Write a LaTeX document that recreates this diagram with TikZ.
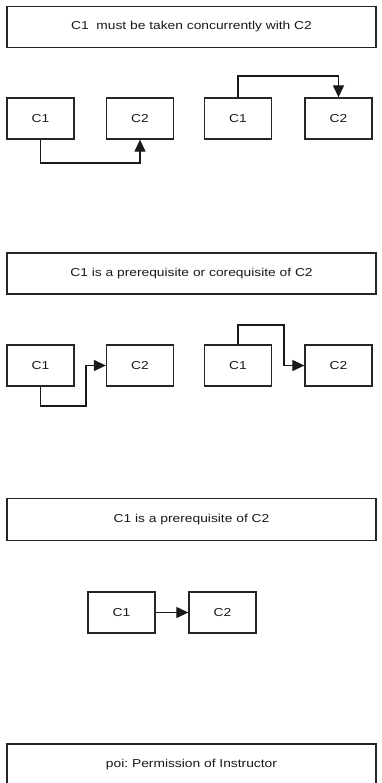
\documentclass[tikz,border=0pt]{standalone}
\usepackage{fontspec}
\setmainfont[FakeStretch=1.2]{Liberation Sans}
\usetikzlibrary{arrows.meta}
\frenchspacing
\begin{document}
\begin{tikzpicture}[x=1pt,y=-1pt,
  every node/.style={font=\fontsize{11.5}{13}\selectfont, text=black!90},
  hdr/.style={draw=black!85, line width=1.3pt, minimum width=369pt, minimum height=41pt, inner sep=0pt},
  course/.style={draw=black!85, line width=1.3pt, minimum width=67pt, minimum height=41pt, inner sep=0pt},
  link/.style={draw=black!90, line width=1.2pt, -{Triangle[length=12pt,width=11pt]}}]
\useasboundingbox (0,0) rectangle (381,783);
\clip (0,0) rectangle (381,783);
% section 1
\node[hdr] (h1) at (191.5,27) {C1\ \ must be taken concurrently with C2};
\node[course] (a1) at (40.5,118.5) {C1};
\node[course] (a2) at (140,118.5) {C2};
\node[course] (b1) at (238,118.5) {C1};
\node[course] (b2) at (338.5,118.5) {C2};
\coordinate (a1b) at (40.5,163);
\coordinate (b1t) at (238,76);
\draw[link] (a1.south) -- (a1b) -| (a2.south);
\draw[link] (b1.north) -- (b1t) -| (b2.north);
% section 2
\node[hdr] (h2) at (191.5,273.5) {C1 is a prerequisite or corequisite of C2};
\node[course] (c1) at (40.5,365.5) {C1};
\node[course] (c2) at (140,365.5) {C2};
\node[course] (d1) at (238,365.5) {C1};
\node[course] (d2) at (338.5,365.5) {C2};
\coordinate (c1b) at (86,406);
\coordinate (d1t) at (284,325);
\draw[link] (c1.south) |- (c1b) |- (c2.west);
\draw[link] (d1.north) |- (d1t) |- (d2.west);
% section 3
\node[hdr, minimum height=42pt] (h3) at (191.5,519.5) {C1 is a prerequisite of C2};
\node[course] (e1) at (121.5,612.5) {C1};
\node[course] (e2) at (222.5,612.5) {C2};
\draw[link] (e1.east) -- (e2.west);
% legend
\node[hdr] (h4) at (191.5,764.5) {poi: Permission of Instructor};
\end{tikzpicture}
\end{document}
